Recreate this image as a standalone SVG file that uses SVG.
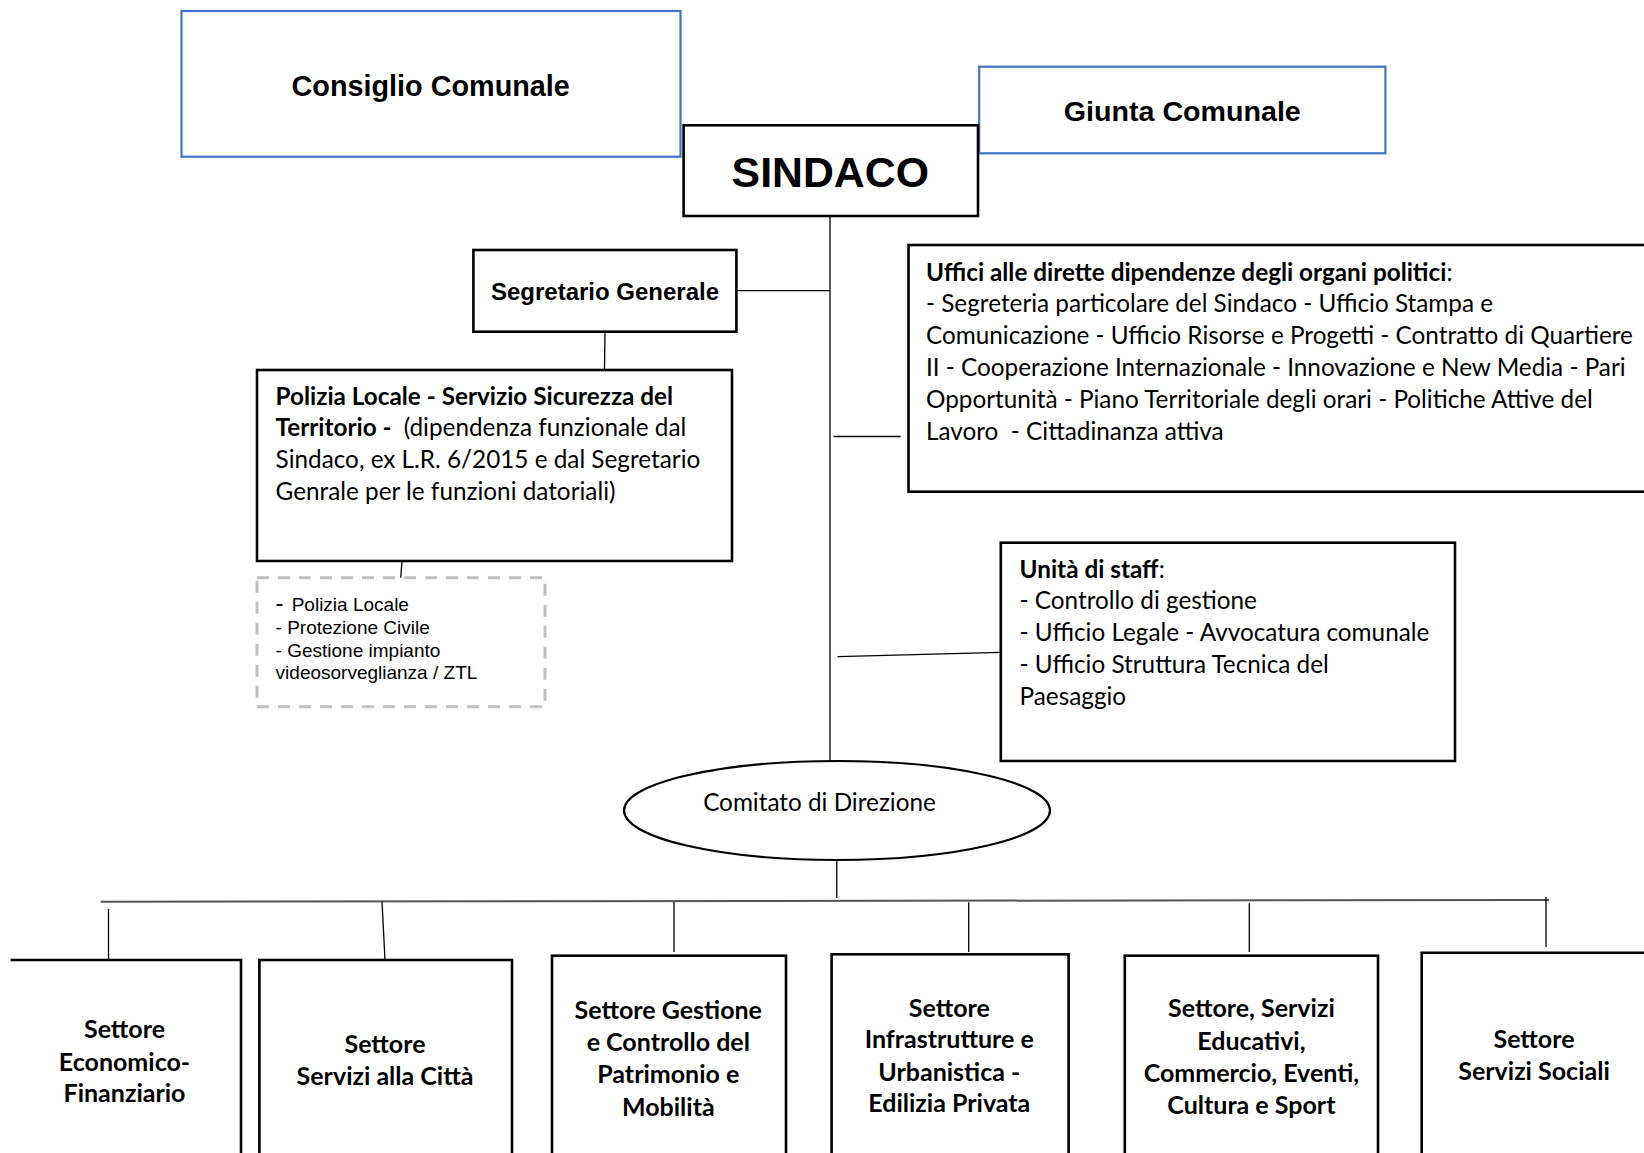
<svg xmlns="http://www.w3.org/2000/svg" width="1644" height="1153" viewBox="0 0 1644 1153">
<style>
.box{fill:#fff;stroke:#000;stroke-width:2.6}
.blue{fill:#fff;stroke:#4472C4;stroke-width:2.2}
.dash{fill:#fff;stroke:#BFBFBF;stroke-width:3;stroke-dasharray:12 9}
.ln{stroke:#000;stroke-width:1.3;fill:none}
.bus{stroke:#555;stroke-width:2;fill:none}
.h{font-family:"Liberation Sans",Arial,sans-serif;font-weight:bold;text-anchor:middle;fill:#000}
.c{font-family:Lato,"Open Sans",sans-serif;font-size:24.3px;fill:#000}
.b{font-weight:bold}
.cb{font-family:Lato,"Open Sans",sans-serif;font-size:25px;font-weight:bold;text-anchor:middle;fill:#000}
.s{font-family:"Liberation Sans",Arial,sans-serif;font-size:19px;fill:#000}
</style>
<rect width="1644" height="1153" fill="#fff"/>
<g id="connectors">
<line class="ln" x1="830" y1="216" x2="830" y2="761"/>
<line class="ln" x1="736" y1="290.7" x2="830" y2="290.7"/>
<line class="ln" x1="605" y1="332" x2="604.5" y2="369"/>
<line class="ln" x1="403.4" y1="543" x2="400.7" y2="578"/>
<line class="ln" x1="833.5" y1="436.5" x2="900.6" y2="436.5"/>
<line class="ln" x1="837.7" y1="656.7" x2="1000.8" y2="652.3"/>
<line class="ln" x1="836.8" y1="860" x2="836.8" y2="898"/>
<line class="bus" x1="100.6" y1="901.7" x2="1549" y2="900"/>
<line class="ln" x1="108.5" y1="909" x2="108.5" y2="962"/>
<line class="ln" x1="382" y1="901.5" x2="385" y2="960"/>
<line class="ln" x1="674" y1="902" x2="674" y2="952"/>
<line class="ln" x1="968.7" y1="902.3" x2="968.7" y2="952"/>
<line class="ln" x1="1249.3" y1="903.3" x2="1249.3" y2="952"/>
<line class="ln" x1="1546" y1="897" x2="1546" y2="947"/>
</g>
<g id="consiglio">
<rect class="blue" x="181.5" y="11" width="499" height="145.7"/>
<text class="h" x="430.7" y="95.5" font-size="28.8">Consiglio Comunale</text>
</g>
<g id="giunta">
<rect class="blue" x="979.2" y="66.7" width="406.2" height="86.6"/>
<text class="h" x="1182.3" y="120.7" font-size="27" textLength="237" lengthAdjust="spacingAndGlyphs">Giunta Comunale</text>
</g>
<g id="sindaco">
<rect class="box" x="683.6" y="125.3" width="294.4" height="90.7"/>
<text class="h" x="830.3" y="186.7" font-size="42.8">SINDACO</text>
</g>
<g id="segretario">
<rect class="box" x="473.4" y="250" width="263" height="81.7"/>
<text class="h" x="605" y="299.5" font-size="24">Segretario Generale</text>
</g>
<g id="polizia">
<rect class="box" x="257" y="370" width="475" height="191"/>
<text class="c" xml:space="preserve" transform="translate(0,1.6)"><tspan x="275.6" y="403" class="b">Polizia Locale - Servizio Sicurezza del</tspan><tspan x="275.6" y="434.7"><tspan class="b">Territorio - </tspan> (dipendenza funzionale dal</tspan><tspan x="275.6" y="466.4">Sindaco, ex L.R. 6/2015 e dal Segretario</tspan><tspan x="275.6" y="498">Genrale per le funzioni datoriali)</tspan></text>
</g>
<g id="polizia-servizi">
<rect class="dash" x="257" y="577.7" width="288" height="129"/>
<text class="s"><tspan x="275.6" y="610.7" font-size="24">-</tspan><tspan x="291.7" y="610.7">Polizia Locale</tspan><tspan x="275.6" y="634">- Protezione Civile</tspan><tspan x="275.6" y="656.7">- Gestione impianto</tspan><tspan x="275.6" y="678.5">videosorveglianza / ZTL</tspan></text>
</g>
<g id="uffici">
<rect class="box" x="908.5" y="245" width="760" height="246.7"/>
<text class="c" xml:space="preserve" transform="translate(0,1.6)"><tspan x="926" y="279"><tspan class="b">Uffici alle dirette dipendenze degli organi politici</tspan>:</tspan><tspan x="926" y="310.8">- Segreteria particolare del Sindaco - Ufficio Stampa e</tspan><tspan x="926" y="342.6">Comunicazione - Ufficio Risorse e Progetti - Contratto di Quartiere</tspan><tspan x="926" y="374.4">II - Cooperazione Internazionale - Innovazione e New Media - Pari</tspan><tspan x="926" y="406.2">Opportunità - Piano Territoriale degli orari - Politiche Attive del</tspan><tspan x="926" y="438">Lavoro  - Cittadinanza attiva</tspan></text>
</g>
<g id="staff">
<rect class="box" x="1000.8" y="542.7" width="454.2" height="218.3"/>
<text class="c" transform="translate(0,1.6)"><tspan x="1019.6" y="576"><tspan class="b">Unità di staff</tspan>:</tspan><tspan x="1019.6" y="607.8">- Controllo di gestione</tspan><tspan x="1019.6" y="639.6">- Ufficio Legale - Avvocatura comunale</tspan><tspan x="1019.6" y="671.4">- Ufficio Struttura Tecnica del</tspan><tspan x="1019.6" y="703.2">Paesaggio</tspan></text>
</g>
<g id="comitato">
<ellipse cx="837" cy="810.5" rx="213" ry="49.5" fill="#fff" stroke="#000" stroke-width="2.2"/>
<text class="c" x="819.5" y="811" text-anchor="middle">Comitato di Direzione</text>
</g>
<g id="settore-economico">
<path class="box" d="M10.6 960 H241 V1170"/>
<text class="cb" transform="translate(0,1.8)"><tspan x="124.5" y="1036.7">Settore</tspan><tspan x="124.5" y="1069">Economico-</tspan><tspan x="124.5" y="1100.5">Finanziario</tspan></text>
</g>
<g id="settore-citta">
<rect class="box" x="259.4" y="960" width="252.6" height="220"/>
<text class="cb" transform="translate(0,1.8)"><tspan x="385" y="1051.7">Settore</tspan><tspan x="385" y="1083.3">Servizi alla Città</tspan></text>
</g>
<g id="settore-patrimonio">
<rect class="box" x="552" y="955.7" width="234" height="220"/>
<text class="cb" transform="translate(0,1.8)"><tspan x="668.3" y="1017.3">Settore Gestione</tspan><tspan x="668.3" y="1049.5">e Controllo del</tspan><tspan x="668.3" y="1081.7">Patrimonio e</tspan><tspan x="668.3" y="1113.8">Mobilità</tspan></text>
</g>
<g id="settore-infrastrutture">
<rect class="box" x="831.6" y="954.3" width="237" height="220"/>
<text class="cb" transform="translate(0,1.8)"><tspan x="949.3" y="1015">Settore</tspan><tspan x="949.3" y="1046.7">Infrastrutture e</tspan><tspan x="949.3" y="1079">Urbanistica -</tspan><tspan x="949.3" y="1110.7">Edilizia Privata</tspan></text>
</g>
<g id="settore-educativi">
<rect class="box" x="1124.8" y="955.7" width="253.2" height="220"/>
<text class="cb" transform="translate(0,1.8)"><tspan x="1251.4" y="1015.7">Settore, Servizi</tspan><tspan x="1251.4" y="1048">Educativi,</tspan><tspan x="1251.4" y="1080">Commercio, Eventi,</tspan><tspan x="1251.4" y="1112.3">Cultura e Sport</tspan></text>
</g>
<g id="settore-sociali">
<path class="box" d="M1421.7 1170 V952.7 H1660"/>
<text class="cb" transform="translate(0,1.8)"><tspan x="1534" y="1046.7">Settore</tspan><tspan x="1534" y="1078.3">Servizi Sociali</tspan></text>
</g>
</svg>
